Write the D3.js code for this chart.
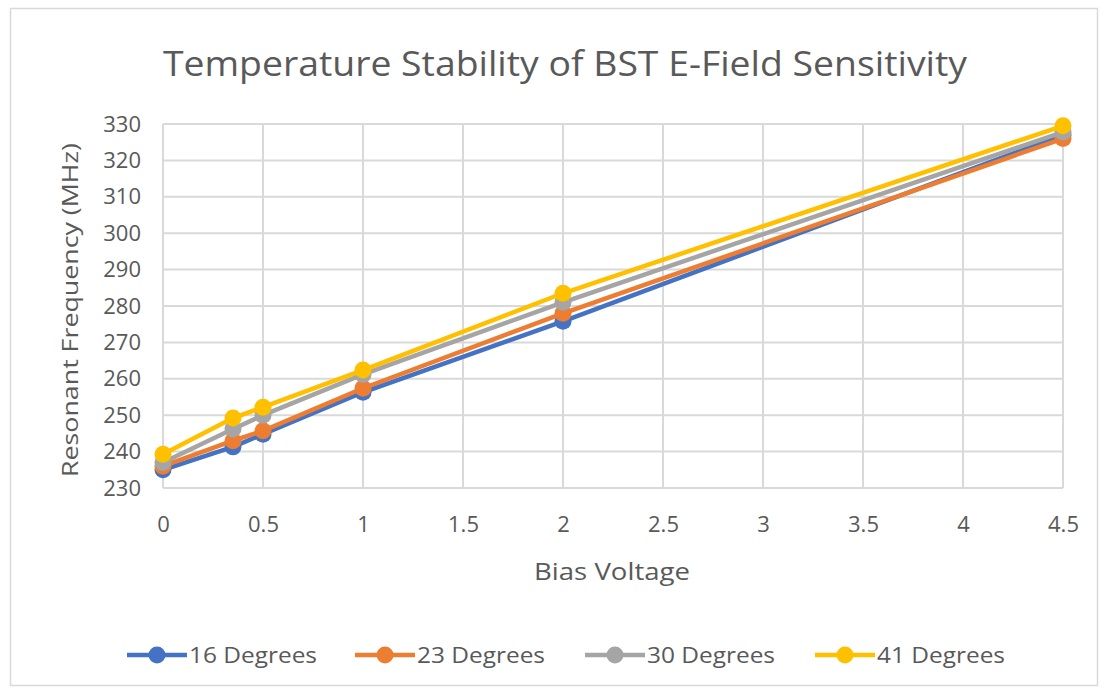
<!DOCTYPE html>
<html lang="en">
<head>
<meta charset="UTF-8">
<title>Temperature Stability of BST E-Field Sensitivity</title>
<style>
    body { margin: 0; background: #fff; }
    svg text { font-family: "Open Sans", "Noto Sans", sans-serif; fill: #595959; }
    .grid line { stroke: #d9d9d9; stroke-width: 2; }
</style>
</head>
<body>
<svg id="chart" width="1108" height="693"></svg>
<script src="https://d3js.org/d3.v7.min.js"></script>
<script>
// data
const voltages = [0, 0.35, 0.5, 1, 2, 4.5];
const seriesNames = ['16 Degrees', '23 Degrees', '30 Degrees', '41 Degrees'];
const deg16 = [235, 241.3, 244.8, 256.3, 275.8, 327];
const deg23 = [236, 243, 245.7, 257.4, 278, 326];
const deg30 = [237, 246.2, 250, 261.2, 281, 327.8];
const deg41 = [239.3, 249.2, 252.2, 262.4, 283.5, 329.5];
const colors = ['#4472C4', '#ED7D31', '#A5A5A5', '#FFC000'];
const xTicks = [0, 0.5, 1, 1.5, 2, 2.5, 3, 3.5, 4, 4.5];
const yTicks = [230, 240, 250, 260, 270, 280, 290, 300, 310, 320, 330];

const series = [deg16, deg23, deg30, deg41];

const svg = d3.select('#chart');

// outer chart border
svg.append('rect')
    .attr('x', 10.5).attr('y', 8.5)
    .attr('width', 1087).attr('height', 677)
    .attr('fill', '#fff')
    .attr('stroke', '#d9d9d9')
    .attr('stroke-width', 1.5);

const x = d3.scaleLinear().domain([0, 4.5]).range([163, 1063]);
const y = d3.scaleLinear().domain([230, 330]).range([488, 124]);

// gridlines
const grid = svg.append('g').attr('class', 'grid');
grid.selectAll('.h').data(yTicks).enter().append('line')
    .attr('x1', x(0)).attr('x2', x(4.5))
    .attr('y1', d => y(d)).attr('y2', d => y(d));
grid.selectAll('.v').data(xTicks).enter().append('line')
    .attr('x1', d => x(d)).attr('x2', d => x(d))
    .attr('y1', y(230)).attr('y2', y(330));

// axes (labels only, Excel style)
const xAxis = svg.append('g')
    .attr('transform', `translate(0,${y(230)})`)
    .call(d3.axisBottom(x).tickValues(xTicks).tickSize(0).tickPadding(28).tickFormat(d3.format('')));
const yAxis = svg.append('g')
    .attr('transform', `translate(${x(0)},0)`)
    .call(d3.axisLeft(y).tickValues(yTicks).tickSize(0).tickPadding(22));
[xAxis, yAxis].forEach(a => {
    a.select('.domain').remove();
    a.selectAll('text').attr('font-size', 22).attr('fill', '#595959')
        .style('font-family', '"Open Sans", sans-serif');
});

// lines and markers
const line = d3.line()
    .x((d, i) => x(voltages[i]))
    .y(d => y(d));

series.forEach((vals, s) => {
    svg.append('path')
        .datum(vals)
        .attr('d', line)
        .attr('fill', 'none')
        .attr('stroke', colors[s])
        .attr('stroke-width', 4.5)
        .attr('stroke-linejoin', 'round');
    svg.append('g').selectAll('circle')
        .data(vals).enter().append('circle')
        .attr('cx', (d, i) => x(voltages[i]))
        .attr('cy', d => y(d))
        .attr('r', 8.5)
        .attr('fill', colors[s]);
});

// title
svg.append('text')
    .attr('x', 565).attr('y', 76)
    .attr('text-anchor', 'middle')
    .attr('font-size', 34)
    .attr('textLength', 804).attr('lengthAdjust', 'spacingAndGlyphs')
    .text('Temperature  Stability of BST E-Field Sensitivity');

// axis titles
svg.append('text')
    .attr('x', 612).attr('y', 580)
    .attr('text-anchor', 'middle')
    .attr('font-size', 24)
    .attr('textLength', 156).attr('lengthAdjust', 'spacingAndGlyphs')
    .text('Bias Voltage');

svg.append('text')
    .attr('transform', 'translate(78,310) rotate(-90)')
    .attr('text-anchor', 'middle')
    .attr('font-size', 22)
    .attr('textLength', 334).attr('lengthAdjust', 'spacingAndGlyphs')
    .text('Resonant  Frequency (MHz)');

// legend
const legendX = [127, 355, 585, 815];
const legend = svg.append('g');
seriesNames.forEach((name, s) => {
    const g = legend.append('g').attr('transform', `translate(${legendX[s]},655)`);
    g.append('line').attr('x1', 0).attr('x2', 60).attr('y1', 0).attr('y2', 0)
        .attr('stroke', colors[s]).attr('stroke-width', 4.5);
    g.append('circle').attr('cx', 30).attr('cy', 0).attr('r', 8.5).attr('fill', colors[s]);
    g.append('text').attr('x', 62).attr('y', 8)
        .attr('font-size', 22)
        .attr('textLength', 128).attr('lengthAdjust', 'spacingAndGlyphs')
        .text(name);
});
</script>
</body>
</html>
